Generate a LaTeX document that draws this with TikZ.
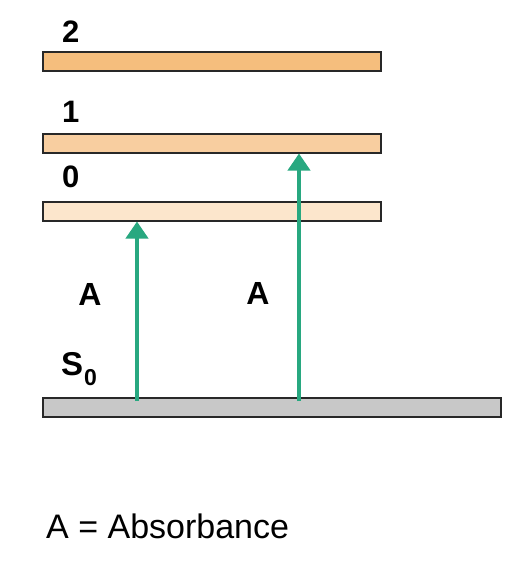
\documentclass[tikz,border=0pt]{standalone}
\usepackage{fontspec}
\setmainfont{Liberation Sans}
\usetikzlibrary{arrows.meta}
\definecolor{lvlA}{RGB}{245,190,125}
\definecolor{lvlB}{RGB}{248,206,160}
\definecolor{lvlC}{RGB}{252,230,204}
\definecolor{gnd}{RGB}{200,200,200}
\definecolor{teal}{RGB}{40,168,128}
\definecolor{edge}{RGB}{40,40,40}
\tikzset{
  levelbar/.style={draw=edge, line width=2pt, rectangle, inner sep=0pt, minimum height=19pt},
  lbl/.style={font=\fontsize{31}{31}\selectfont\bfseries, inner sep=0pt, anchor=base west},
  albl/.style={font=\fontsize{32}{32}\selectfont\bfseries, inner sep=0pt, anchor=base},
  absarrow/.style={draw=teal, line width=4pt, -{Triangle[width=22pt,length=17pt]}},
}
\begin{document}
\begin{tikzpicture}[x=1pt,y=-1pt]
\useasboundingbox (0,0) rectangle (513,567);
\node[levelbar, fill=lvlA, minimum width=338pt] (l2) at (211.5,62) {};
\node[levelbar, fill=lvlB, minimum width=338pt] (l1) at (211.5,143) {};
\node[levelbar, fill=lvlC, minimum width=338pt] (l0) at (211.5,211) {};
\node[levelbar, fill=gnd, minimum width=458pt] (s0) at (271.5,407) {};
\node[lbl] (t2) at (62,43) {2};
\node[lbl] (t1) at (62,122) {1};
\node[lbl] (t0) at (62,187) {0};
\node[lbl, font=\fontsize{33}{33}\selectfont\bfseries] (ts) at (61,375) {S\kern1pt\raisebox{-10pt}{\fontsize{23}{23}\selectfont 0}};
\coordinate (xa) at (137,0);
\coordinate (xb) at (299,0);
\draw[absarrow] (s0.center -| xa) ++(0,-6) -- (l0.south -| xa);
\draw[absarrow] (s0.center -| xb) ++(0,-6) -- (l1.south -| xb);
\node[albl] (a1) at (90,305) {A};
\node[albl] (a2) at (258,304) {A};
\node[font=\fontsize{34}{34}\selectfont, inner sep=0pt, anchor=base west] (leg) at (46,538) {A = Absorbance};
\end{tikzpicture}
\end{document}
